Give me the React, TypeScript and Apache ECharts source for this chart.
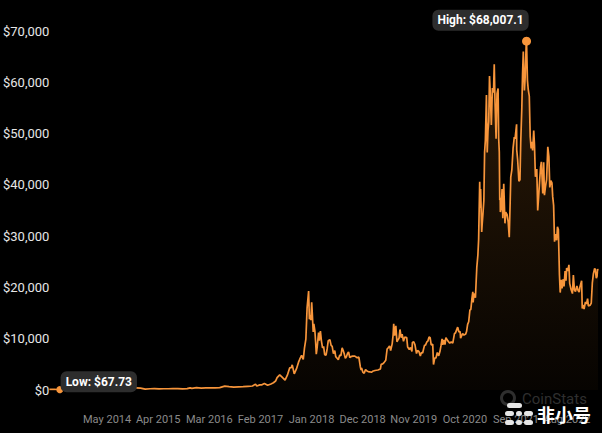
import { useEffect, useRef } from 'react';
import * as echarts from 'echarts';

// Bitcoin price history [date, USD]
const btc2013to2016: [string, number][] = [
  ['2013-04-28', 135], ['2013-05-15', 114], ['2013-06-01', 129], ['2013-06-15', 100],
  ['2013-07-05', 67.73], ['2013-07-20', 90], ['2013-08-15', 100], ['2013-09-15', 128],
  ['2013-10-15', 150], ['2013-11-01', 205], ['2013-11-15', 430], ['2013-11-30', 1130],
  ['2013-12-04', 1150], ['2013-12-18', 520], ['2013-12-31', 750], ['2014-01-15', 850],
  ['2014-02-15', 620], ['2014-03-15', 630], ['2014-04-10', 360], ['2014-05-15', 450],
  ['2014-06-15', 600], ['2014-07-15', 620], ['2014-08-15', 500], ['2014-09-15', 470],
  ['2014-10-15', 390], ['2014-11-15', 400], ['2014-12-15', 350], ['2015-01-14', 180],
  ['2015-02-15', 240], ['2015-03-15', 280], ['2015-04-15', 220], ['2015-05-15', 240],
  ['2015-06-15', 240], ['2015-07-15', 285], ['2015-08-15', 260], ['2015-09-15', 230],
  ['2015-10-15', 255], ['2015-11-04', 400], ['2015-11-15', 330], ['2015-12-15', 450],
  ['2016-01-15', 380], ['2016-02-15', 400], ['2016-03-15', 415], ['2016-04-15', 430],
  ['2016-05-15', 455], ['2016-06-17', 750], ['2016-07-15', 660], ['2016-08-15', 570],
  ['2016-09-15', 610], ['2016-10-15', 640], ['2016-11-15', 710], ['2016-12-15', 780],
];

const btc2017: [string, number][] = [
  ['2017-01-04', 1150], ['2017-01-12', 780], ['2017-02-01', 990], ['2017-02-15', 1010],
  ['2017-03-03', 1280], ['2017-03-24', 940], ['2017-04-15', 1180], ['2017-05-01', 1420],
  ['2017-05-15', 1750], ['2017-05-25', 2400], ['2017-06-11', 2960], ['2017-06-25', 2550],
  ['2017-07-16', 1930], ['2017-07-31', 2880], ['2017-08-15', 4300], ['2017-08-25', 4350],
  ['2017-09-01', 4900], ['2017-09-14', 3150], ['2017-09-29', 4160], ['2017-10-12', 5430],
  ['2017-10-20', 6000], ['2017-11-01', 6750], ['2017-11-12', 5950], ['2017-11-20', 8200],
  ['2017-11-29', 9900], ['2017-12-07', 16000], ['2017-12-17', 19300], ['2017-12-22', 13800],
  ['2017-12-28', 14600],
];

const btc2018to2019: [string, number][] = [
  ['2018-01-01', 13600], ['2018-01-06', 17100], ['2018-01-10', 14900], ['2018-01-16', 11300],
  ['2018-01-20', 12900], ['2018-01-27', 11500], ['2018-02-01', 9200], ['2018-02-05', 7000],
  ['2018-02-10', 8100], ['2018-02-20', 11200], ['2018-02-25', 9600], ['2018-03-04', 11500],
  ['2018-03-11', 9500], ['2018-03-18', 8200], ['2018-03-25', 8500], ['2018-04-01', 6900],
  ['2018-04-10', 6800], ['2018-04-17', 8000], ['2018-04-24', 9600], ['2018-05-05', 9800],
  ['2018-05-13', 8700], ['2018-05-20', 8500], ['2018-05-28', 7100], ['2018-06-06', 7700],
  ['2018-06-12', 6500], ['2018-06-24', 6100], ['2018-06-29', 5900], ['2018-07-08', 6800],
  ['2018-07-16', 6700], ['2018-07-24', 8200], ['2018-07-31', 7700], ['2018-08-07', 7000],
  ['2018-08-14', 6200], ['2018-08-21', 6500], ['2018-08-28', 7100], ['2018-09-04', 7400],
  ['2018-09-12', 6300], ['2018-09-20', 6500], ['2018-10-01', 6600], ['2018-10-10', 6600],
  ['2018-10-15', 6600], ['2018-10-30', 6300], ['2018-11-10', 6400], ['2018-11-14', 5700],
  ['2018-11-20', 4500], ['2018-11-25', 3900], ['2018-11-28', 4300], ['2018-12-06', 3500],
  ['2018-12-15', 3250], ['2018-12-24', 4000], ['2018-12-31', 3750], ['2019-01-10', 3600],
  ['2019-01-20', 3550], ['2019-01-31', 3450], ['2019-02-08', 3650], ['2019-02-24', 3800],
  ['2019-03-15', 3900], ['2019-03-31', 4100], ['2019-04-05', 5000], ['2019-04-15', 5100],
  ['2019-04-25', 5400], ['2019-05-05', 5800], ['2019-05-14', 8000], ['2019-05-20', 8200],
  ['2019-05-30', 8600], ['2019-06-06', 7700], ['2019-06-16', 9000], ['2019-06-22', 10700],
  ['2019-06-26', 12900], ['2019-07-02', 10600], ['2019-07-10', 12500], ['2019-07-17', 9400],
  ['2019-07-24', 9800], ['2019-07-31', 10100], ['2019-08-06', 11800], ['2019-08-14', 10200],
  ['2019-08-20', 10900], ['2019-08-29', 9500], ['2019-09-06', 10300], ['2019-09-19', 10200],
  ['2019-09-25', 8400], ['2019-10-06', 7900], ['2019-10-14', 8300], ['2019-10-23', 7500],
  ['2019-10-26', 9250], ['2019-11-04', 9400], ['2019-11-12', 8800], ['2019-11-22', 7100],
  ['2019-11-29', 7700], ['2019-12-08', 7500], ['2019-12-17', 6650], ['2019-12-24', 7300],
];

const btc2020: [string, number][] = [
  ['2020-01-01', 7200], ['2020-01-08', 8100], ['2020-01-14', 8800], ['2020-01-19', 8700],
  ['2020-01-29', 9400], ['2020-02-05', 9600], ['2020-02-12', 10350], ['2020-02-19', 10200],
  ['2020-02-26', 8800], ['2020-03-07', 8900], ['2020-03-12', 4970], ['2020-03-16', 5000],
  ['2020-03-20', 6200], ['2020-03-28', 6250], ['2020-04-06', 7300], ['2020-04-15', 6650],
  ['2020-04-23', 7500], ['2020-04-30', 8650], ['2020-05-07', 9950], ['2020-05-12', 8800],
  ['2020-05-19', 9750], ['2020-05-26', 8850], ['2020-06-01', 10200], ['2020-06-10', 9780],
  ['2020-06-17', 9450], ['2020-06-26', 9150], ['2020-07-06', 9350], ['2020-07-16', 9130],
  ['2020-07-27', 11000], ['2020-08-02', 11100], ['2020-08-17', 12250], ['2020-08-25', 11300],
  ['2020-09-02', 11400], ['2020-09-05', 10100], ['2020-09-18', 11000], ['2020-09-27', 10700],
  ['2020-10-08', 10900], ['2020-10-14', 11400], ['2020-10-21', 12800], ['2020-10-28', 13300],
  ['2020-11-05', 15600], ['2020-11-11', 15700], ['2020-11-18', 17800], ['2020-11-24', 19150],
  ['2020-11-26', 17100], ['2020-12-01', 18800], ['2020-12-11', 18000], ['2020-12-16', 21300],
  ['2020-12-20', 23900], ['2020-12-27', 26300],
];

const btc2021: [string, number][] = [
  ['2021-01-01', 29400], ['2021-01-03', 32800], ['2021-01-08', 40600], ['2021-01-11', 35500],
  ['2021-01-14', 39200], ['2021-01-21', 30800], ['2021-01-24', 32300], ['2021-01-29', 34300],
  ['2021-02-04', 36900], ['2021-02-09', 46400], ['2021-02-14', 48700], ['2021-02-21', 57500],
  ['2021-02-26', 46300], ['2021-03-03', 50500], ['2021-03-08', 52300], ['2021-03-13', 61200],
  ['2021-03-18', 57900], ['2021-03-25', 51700], ['2021-04-01', 58900], ['2021-04-08', 58000],
  ['2021-04-13', 63500], ['2021-04-18', 56200], ['2021-04-25', 49000], ['2021-05-01', 57800],
  ['2021-05-08', 58800], ['2021-05-12', 49100], ['2021-05-16', 46400], ['2021-05-19', 37000],
  ['2021-05-22', 37500], ['2021-05-23', 34700], ['2021-05-29', 35700], ['2021-06-03', 39200],
  ['2021-06-08', 33500], ['2021-06-14', 40200], ['2021-06-22', 32500], ['2021-06-27', 34700],
  ['2021-07-06', 34200], ['2021-07-13', 32800], ['2021-07-20', 29800], ['2021-07-25', 35400],
  ['2021-07-30', 41500], ['2021-08-06', 42900], ['2021-08-14', 47100], ['2021-08-22', 49300],
  ['2021-08-27', 49000], ['2021-09-06', 51800], ['2021-09-07', 46800], ['2021-09-13', 44900],
  ['2021-09-21', 40700], ['2021-09-28', 41000], ['2021-10-03', 48200], ['2021-10-10', 54800],
  ['2021-10-15', 61700], ['2021-10-20', 66000], ['2021-10-24', 61100], ['2021-10-27', 58400],
  ['2021-11-01', 61000], ['2021-11-08', 67600], ['2021-11-10', 68007.1], ['2021-11-16', 60400],
  ['2021-11-21', 58600], ['2021-11-28', 57300], ['2021-12-04', 49400], ['2021-12-10', 47100],
  ['2021-12-14', 48400], ['2021-12-20', 46700], ['2021-12-27', 50600],
];

const btc2022to2023: [string, number][] = [
  ['2022-01-01', 47700], ['2022-01-07', 41600], ['2022-01-10', 41800], ['2022-01-16', 43100],
  ['2022-01-22', 35000], ['2022-01-28', 37700], ['2022-02-05', 41400], ['2022-02-10', 43500],
  ['2022-02-15', 44500], ['2022-02-24', 38300], ['2022-03-02', 44400], ['2022-03-07', 38000],
  ['2022-03-14', 39700], ['2022-03-21', 41000], ['2022-03-29', 47400], ['2022-04-05', 45500],
  ['2022-04-11', 39500], ['2022-04-18', 40800], ['2022-04-25', 40400], ['2022-04-30', 37700],
  ['2022-05-06', 36000], ['2022-05-12', 28900], ['2022-05-17', 30400], ['2022-05-26', 29200],
  ['2022-05-31', 31800], ['2022-06-06', 31300], ['2022-06-13', 22500], ['2022-06-18', 19000],
  ['2022-06-25', 21500], ['2022-06-30', 19800], ['2022-07-08', 21600], ['2022-07-13', 20200],
  ['2022-07-20', 23200], ['2022-07-26', 21300], ['2022-07-30', 23800], ['2022-08-07', 23200],
  ['2022-08-14', 24400], ['2022-08-19', 20800], ['2022-08-28', 19600], ['2022-09-06', 18800],
  ['2022-09-12', 22400], ['2022-09-19', 19500], ['2022-09-26', 19200], ['2022-10-05', 20300],
  ['2022-10-13', 19400], ['2022-10-20', 19100], ['2022-10-25', 20100], ['2022-11-05', 21300],
  ['2022-11-09', 15900], ['2022-11-14', 16600], ['2022-11-21', 15800], ['2022-11-30', 17200],
  ['2022-12-07', 16800], ['2022-12-14', 17800], ['2022-12-19', 16400], ['2022-12-31', 16550],
  ['2023-01-07', 16950], ['2023-01-14', 20900], ['2023-01-21', 22700], ['2023-01-29', 23700],
  ['2023-02-02', 23500], ['2023-02-09', 21800], ['2023-02-14', 22200], ['2023-02-17', 23600],
  ['2023-02-20', 23300],
];

const axisStart = '2013-04-28';
const axisEnd = '2023-02-20';
const tickDates = [
  '2014-05-10', '2015-04-09', '2016-03-08', '2017-02-05', '2018-01-05',
  '2018-12-05', '2019-11-04', '2020-10-03', '2021-09-02', '2022-08-02',
];
const tickLabels = [
  'May 2014', 'Apr 2015', 'Mar 2016', 'Feb 2017', 'Jan 2018',
  'Dec 2018', 'Nov 2019', 'Oct 2020', 'Sep 2021', 'Aug 2022',
];
const yMin = 0;
const yMax = 70000;
const yStep = 10000;

const toTs = (s: string) => {
  const [y, m, d] = s.split('-').map(Number);
  return Date.UTC(y, m - 1, d);
};

export default function App() {
  const ref = useRef<HTMLDivElement>(null);

  useEffect(() => {
    if (!ref.current) return;
    const chart = echarts.init(ref.current, null, { renderer: 'svg' });
    const all = [...btc2013to2016, ...btc2017, ...btc2018to2019, ...btc2020, ...btc2021, ...btc2022to2023];
    const data = all.map(([d, v]) => [toTs(d), v]);
    let hi = data[0];
    let lo = data[0];
    data.forEach((p) => {
      if (p[1] > hi[1]) hi = p;
      if (p[1] < lo[1]) lo = p;
    });
    const tickTs = tickDates.map(toTs);
    const money = (v: number) => '$' + v.toLocaleString('en-US', { maximumFractionDigits: 2 });
    const orange = '#f7953b';
    const boxLabel = {
      show: true,
      position: 'inside',
      color: '#ffffff',
      fontFamily: 'Roboto',
      fontWeight: 'bold',
      fontSize: 12,
      backgroundColor: '#2d2d2d',
      borderRadius: 6,
      padding: [5, 5, 4, 5],
    };

    chart.setOption({
      animation: false,
      backgroundColor: '#000000',
      grid: { left: 48, right: 4, top: 31, bottom: 43, containLabel: false },
      xAxis: {
        type: 'value',
        min: toTs(axisStart),
        max: toTs(axisEnd),
        axisLine: { show: false },
        axisTick: { show: false },
        splitLine: { show: false },
        axisLabel: {
          customValues: tickTs,
          margin: 24,
          color: '#8a8a8a',
          fontSize: 11,
          fontFamily: 'Roboto',
          formatter: (v: number) => {
            const i = tickTs.indexOf(v);
            return i >= 0 ? tickLabels[i] : '';
          },
        },
      },
      yAxis: {
        type: 'value',
        min: yMin,
        max: yMax,
        interval: yStep,
        axisLine: { show: false },
        axisTick: { show: false },
        splitLine: { show: false },
        axisLabel: {
          margin: 0,
          color: '#e6e6e6',
          fontSize: 13,
          fontFamily: 'Roboto',
          formatter: (v: number) => money(v),
        },
      },
      series: [
        {
          type: 'line',
          data,
          showSymbol: false,
          symbol: 'none',
          lineStyle: { color: orange, width: 1.7 },
          areaStyle: {
            color: new echarts.graphic.LinearGradient(0, 0, 0, 1, [
              { offset: 0, color: 'rgba(247,147,40,0.26)' },
              { offset: 1, color: 'rgba(247,147,40,0.04)' },
            ]),
          },
          markPoint: {
            data: [
              {
                name: 'High',
                coord: hi,
                value: hi[1],
                symbol: 'circle',
                symbolSize: 9,
                itemStyle: { color: orange },
                label: { ...boxLabel, offset: [-46, -21], formatter: () => 'High: ' + money(hi[1]) },
              },
              {
                name: 'Low',
                coord: lo,
                value: lo[1],
                symbol: 'circle',
                symbolSize: 7,
                itemStyle: { color: orange },
                label: { ...boxLabel, offset: [39, -8], formatter: () => 'Low: ' + money(lo[1]) },
              },
            ],
          },
        },
      ],
      graphic: [
        { type: 'ring', shape: { cx: 508, cy: 398, r: 8, r0: 5 }, style: { fill: '#2e2e2e' }, z: 10 },
        {
          type: 'text', left: 522, top: 391,
          style: { text: 'CoinStats', fill: '#2f2f2f', fontSize: 15, fontFamily: 'Roboto' }, z: 10,
        },
        { type: 'rect', shape: { x: 507, y: 403, width: 15, height: 5, r: 2.5 }, style: { fill: '#e6e6e6' }, z: 11 },
        { type: 'rect', shape: { x: 505, y: 411, width: 9, height: 5, r: 2.5 }, style: { fill: '#e6e6e6' }, z: 11 },
        { type: 'rect', shape: { x: 516, y: 411, width: 6, height: 5, r: 2.5 }, style: { fill: '#e6e6e6' }, z: 11 },
        { type: 'rect', shape: { x: 524, y: 411, width: 9, height: 5, r: 2.5 }, style: { fill: '#e6e6e6' }, z: 11 },
        { type: 'rect', shape: { x: 505, y: 420, width: 9, height: 5, r: 2.5 }, style: { fill: '#e6e6e6' }, z: 11 },
        { type: 'rect', shape: { x: 516, y: 420, width: 6, height: 5, r: 2.5 }, style: { fill: '#e6e6e6' }, z: 11 },
        { type: 'rect', shape: { x: 524, y: 420, width: 9, height: 5, r: 2.5 }, style: { fill: '#e6e6e6' }, z: 11 },
        {
          type: 'text', left: 537, top: 405,
          style: { text: '非小号', fill: '#ffffff', fontSize: 18, fontWeight: 'bold', fontFamily: 'Noto Sans CJK SC' }, z: 11,
        },
      ],
    });
    return () => chart.dispose();
  }, []);

  return (
    <div
      ref={ref}
      style={{ position: 'fixed', left: 0, top: 0, width: 602, height: 433, background: '#000' }}
    />
  );
}
